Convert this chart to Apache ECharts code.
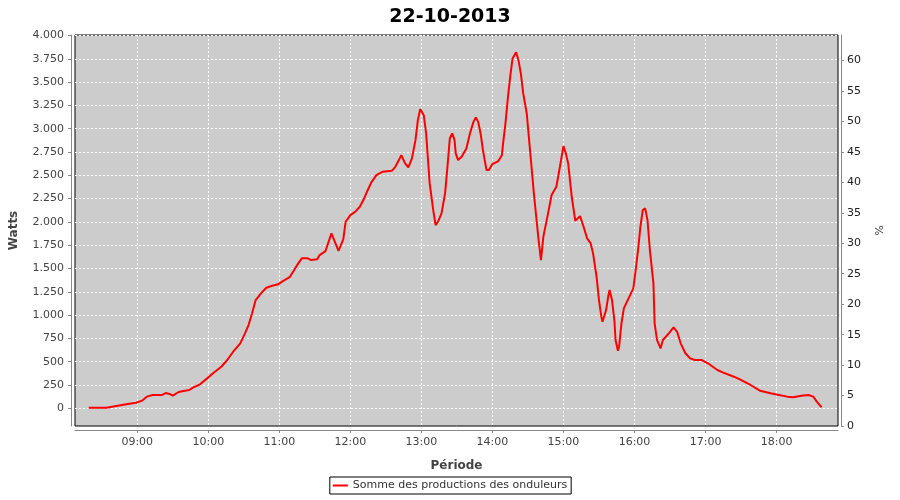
<!DOCTYPE html>
<html>
<head>
<meta charset="utf-8">
<script src="https://cdn.jsdelivr.net/npm/echarts@6/dist/echarts.min.js"></script>
<style>html,body{margin:0;padding:0;background:#fff}#c{width:900px;height:500px}</style>
</head>
<body>
<div id="c"></div>
<script>
const times = ['08:19','08:34','08:35','08:47','08:52','08:59','09:04','09:08','09:13','09:21','09:24','09:28','09:30','09:35','09:39','09:44','09:47','09:53','09:59','10:04','10:11','10:16','10:21','10:27','10:31','10:34','10:37','10:40','10:45','10:49','10:54','10:59','11:03','11:09','11:12','11:16','11:19','11:24','11:27','11:32','11:34','11:39','11:44','11:50','11:54','11:56','12:00','12:04','12:08','12:11','12:14','12:18','12:22','12:27','12:35','12:38','12:41','12:43','12:46','12:49','12:52','12:55','12:57','12:59','13:02','13:04','13:06','13:07','13:10','13:12','13:14','13:17','13:20','13:22','13:24','13:26','13:28','13:29','13:31','13:34','13:38','13:41','13:44','13:46','13:48','13:50','13:52','13:55','13:57','14:00','14:05','14:08','14:09','14:11','14:13','14:15','14:17','14:20','14:22','14:24','14:26','14:29','14:30','14:32','14:35','14:37','14:39','14:41','14:43','14:47','14:50','14:54','14:57','15:00','15:02','15:04','15:07','15:10','15:14','15:17','15:20','15:23','15:25','15:28','15:30','15:32','15:33','15:36','15:38','15:39','15:41','15:43','15:44','15:46','15:47','15:49','15:51','15:55','15:59','16:01','16:03','16:05','16:07','16:09','16:11','16:13','16:16','16:17','16:19','16:22','16:24','16:29','16:33','16:36','16:39','16:43','16:47','16:51','16:57','17:02','17:10','17:15','17:24','17:29','17:38','17:46','17:55','18:02','18:09','18:14','18:21','18:27','18:31','18:34','18:38'];
const watts = [5,5,17,35,46,60,82,125,143,143,164,150,135,175,186,196,221,257,321,375,446,518,607,697,804,893,1019,1161,1240,1293,1315,1330,1365,1411,1472,1555,1609,1609,1590,1598,1644,1687,1877,1690,1812,2001,2073,2108,2162,2234,2323,2430,2502,2537,2548,2591,2663,2716,2634,2584,2681,2877,3092,3210,3145,2949,2591,2413,2127,1966,2001,2091,2306,2591,2895,2949,2877,2735,2663,2698,2788,2949,3073,3121,3073,2949,2770,2556,2556,2620,2652,2716,2842,3056,3324,3556,3753,3820,3735,3592,3378,3163,3020,2735,2306,2055,1805,1590,1840,2091,2288,2377,2591,2813,2735,2627,2269,2012,2062,1948,1823,1769,1662,1411,1161,983,929,1054,1215,1269,1161,947,733,618,661,912,1072,1180,1287,1483,1698,1948,2127,2145,2019,1698,1340,912,733,643,733,804,869,821,697,590,536,518,518,483,411,382,339,311,250,189,161,143,125,118,135,143,125,71,11];
const hourTicks = ['09:00','10:00','11:00','12:00','13:00','14:00','15:00','16:00','17:00','18:00'];
const wattTicks = [0,250,500,750,1000,1250,1500,1750,2000,2250,2500,2750,3000,3250,3500,3750,4000];
const seriesName = 'Somme des productions des onduleurs';

const toMin = s => { const p = s.split(':'); return (+p[0]) * 60 + (+p[1]); };
const fmtTime = v => { const h = Math.floor(v / 60), m = Math.round(v - h * 60); return String(h).padStart(2, '0') + ':' + String(m).padStart(2, '0'); };
const fmtW = v => v >= 1000 ? Math.floor(v / 1000) + '.' + String(v % 1000).padStart(3, '0') : String(v);

const data = times.map((t, i) => [toMin(t), watts[i]]);
const FONT = 'DejaVu Sans';

const chart = echarts.init(document.getElementById('c'));
chart.setOption({
  animation: false,
  backgroundColor: '#ffffff',
  textStyle: { fontFamily: FONT },
  title: {
    text: '22-10-2013', left: 'center', top: 3,
    textStyle: { fontFamily: FONT, fontSize: 19, fontWeight: 'bold', color: '#000' }
  },
  legend: {
    data: [seriesName], left: 'center', top: 477,
    icon: 'rect', itemWidth: 15, itemHeight: 2,
    borderColor: '#000', borderWidth: 1, borderRadius: 0, padding: [3, 4, 3, 3],
    textStyle: { fontFamily: FONT, fontSize: 11, color: '#333' }
  },
  grid: {
    left: 75, right: 62, top: 35, bottom: 74,
    show: true, backgroundColor: '#cccccc', borderColor: '#000', borderWidth: 1,
    containLabel: false
  },
  xAxis: {
    type: 'value', min: 487.4, max: 1131.9,
    offset: 4,
    name: 'Période', nameLocation: 'middle', nameGap: 30,
    nameTextStyle: { fontFamily: FONT, fontSize: 12, fontWeight: 'bold', color: '#444' },
    axisLine: { show: true, onZero: false, lineStyle: { color: '#888', width: 1 } },
    axisTick: { show: true, length: 3, inside: false, lineStyle: { color: '#888' }, customValues: hourTicks.map(toMin) },
    axisLabel: { fontFamily: FONT, fontSize: 11, color: '#444', margin: 7, customValues: hourTicks.map(toMin), formatter: v => fmtTime(v) },
    splitLine: { show: true, lineStyle: { color: '#ffffff', type: [2, 2], width: 1 } }
  },
  yAxis: [{
    type: 'value', min: -190, max: 4005, position: 'left', offset: 4,
    name: 'Watts', nameLocation: 'middle', nameGap: 51,
    nameTextStyle: { fontFamily: FONT, fontSize: 12, fontWeight: 'bold', color: '#444' },
    axisLine: { show: true, onZero: false, lineStyle: { color: '#888', width: 1 } },
    axisTick: { show: true, length: 3, lineStyle: { color: '#888' }, customValues: wattTicks },
    axisLabel: { fontFamily: FONT, fontSize: 11, color: '#444', margin: 7, customValues: wattTicks, formatter: v => fmtW(v) },
    splitLine: { show: true, lineStyle: { color: '#ffffff', type: [2, 2], width: 1 } }
  }, {
    type: 'value', min: 0, max: 64.2, interval: 5, position: 'right', offset: 3,
    name: '%', nameLocation: 'middle', nameGap: 31, nameRotate: -90,
    nameTextStyle: { fontFamily: FONT, fontSize: 11, color: '#444' },
    axisLine: { show: true, onZero: false, lineStyle: { color: '#888', width: 1 } },
    axisTick: { show: true, length: 3, lineStyle: { color: '#888' } },
    axisLabel: { fontFamily: FONT, fontSize: 11, color: '#222', margin: 6, showMaxLabel: false },
    splitLine: { show: false }
  }],
  series: [{
    name: seriesName, type: 'line', yAxisIndex: 0, data: data,
    showSymbol: false, symbol: 'none',
    lineStyle: { color: '#ff0000', width: 2 },
    itemStyle: { color: '#ff0000' },
    emphasis: { disabled: true }
  }]
});
</script>
</body>
</html>
